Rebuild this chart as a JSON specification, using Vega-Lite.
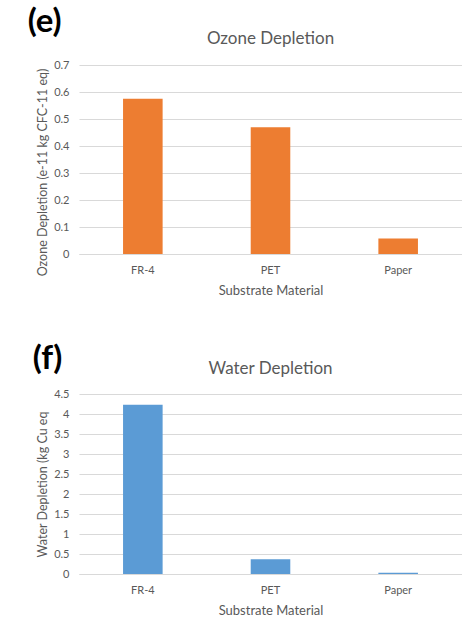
{
  "$schema": "https://vega.github.io/schema/vega-lite/v6.json",
  "background": "white",
  "padding": {"left": 27, "top": 6, "right": 0, "bottom": 0},
  "datasets": {
    "ozone": [
      {"material": "FR-4", "value": 0.575},
      {"material": "PET", "value": 0.469},
      {"material": "Paper", "value": 0.057}
    ],
    "water": [
      {"material": "FR-4", "value": 4.23},
      {"material": "PET", "value": 0.37},
      {"material": "Paper", "value": 0.03}
    ]
  },
  "config": {
    "font": "Lato",
    "view": {"stroke": null},
    "axis": {
      "labelColor": "#595959",
      "titleColor": "#595959",
      "labelFontSize": 11,
      "titleFontSize": 12.5,
      "titleFontWeight": "normal",
      "ticks": false,
      "gridColor": "#d9d9d9",
      "domain": false
    },
    "title": {"color": "#595959", "fontSize": 17, "fontWeight": "normal"}
  },
  "spacing": 46,
  "vconcat": [
    {
      "title": {"text": "(e)", "anchor": "start", "fontSize": 33, "fontWeight": "bold", "color": "#000000", "offset": -9, "dx": -9},
      "vconcat": [
        {
          "title": {"text": "Ozone Depletion", "anchor": "middle", "offset": 1, "dy": -10},
          "width": 383,
          "height": 189,
          "data": {"name": "ozone"},
          "mark": {"type": "bar", "color": "#ED7D31"},
          "encoding": {
            "x": {
              "field": "material", "type": "nominal", "sort": null,
              "scale": {"paddingInner": 0.69, "paddingOuter": 0.345},
              "axis": {"title": "Substrate Material", "titleFontSize": 13, "labelAngle": 0, "labelPadding": 10, "titlePadding": 9, "grid": false, "domain": true, "domainColor": "#d9d9d9"}
            },
            "y": {
              "field": "value", "type": "quantitative",
              "scale": {"domain": [0, 0.7]},
              "axis": {"title": "Ozone Depletion (e-11 kg CFC-11 eq)", "values": [0, 0.1, 0.2, 0.3, 0.4, 0.5, 0.6, 0.7], "format": ".1~f", "labelPadding": 10, "titlePadding": 4, "titleY": 107}
            }
          }
        }
      ]
    },
    {
      "title": {"text": "(f)", "anchor": "start", "fontSize": 33, "fontWeight": "bold", "color": "#000000", "offset": -16, "dx": -4},
      "vconcat": [
        {
          "title": {"text": "Water Depletion", "anchor": "middle", "offset": -6, "dy": -16},
          "width": 383,
          "height": 180,
          "data": {"name": "water"},
          "mark": {"type": "bar", "color": "#5B9BD5"},
          "encoding": {
            "x": {
              "field": "material", "type": "nominal", "sort": null,
              "scale": {"paddingInner": 0.69, "paddingOuter": 0.345},
              "axis": {"title": "Substrate Material", "titleFontSize": 13, "labelAngle": 0, "labelPadding": 10, "titlePadding": 9, "grid": false, "domain": true, "domainColor": "#d9d9d9"}
            },
            "y": {
              "field": "value", "type": "quantitative",
              "scale": {"domain": [0, 4.5]},
              "axis": {"title": "Water Depletion (kg Cu eq", "values": [0, 0.5, 1, 1.5, 2, 2.5, 3, 3.5, 4, 4.5], "format": ".1~f", "labelPadding": 10, "titlePadding": 4}
            }
          }
        }
      ]
    }
  ]
}
